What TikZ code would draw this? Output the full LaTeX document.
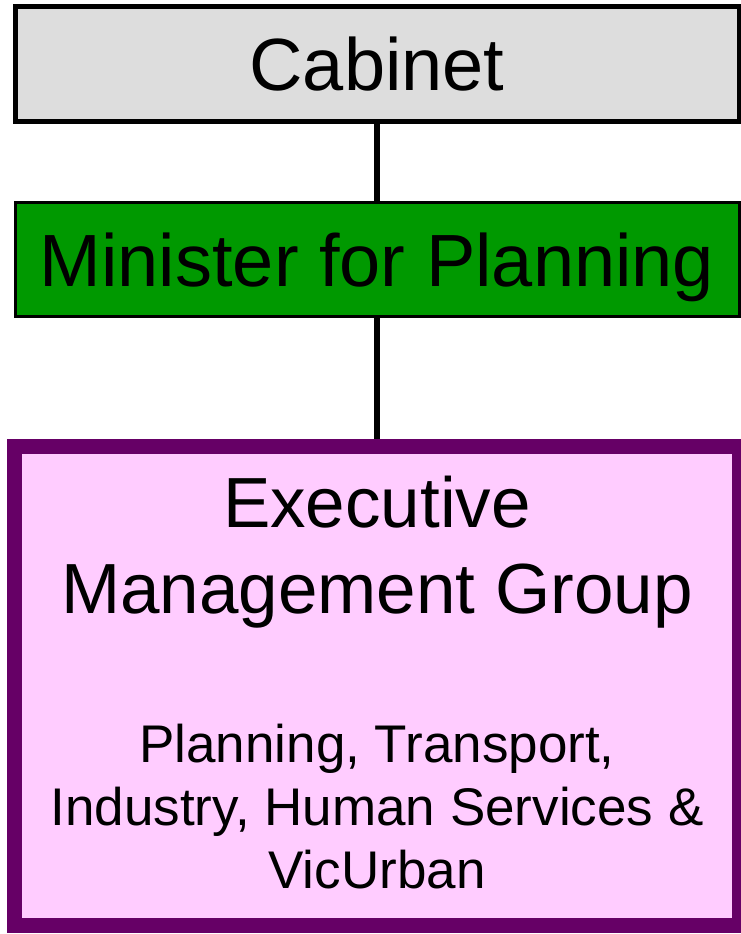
\documentclass[tikz,border=0pt]{standalone}
\usepackage{fontspec}
\setmainfont{Liberation Sans}
\usetikzlibrary{positioning}
\usetikzlibrary{backgrounds}
\definecolor{cabinetgray}{HTML}{DDDDDD}
\definecolor{ministergreen}{HTML}{009900}
\definecolor{emgpurple}{HTML}{660066}
\definecolor{emgpink}{HTML}{FFCCFF}
\tikzset{
   box/.style = {%
    shape=rectangle,
    draw=black,
    align=center,
    text depth=0pt,
    inner sep=0pt,
    minimum width=724pt},
   link/.style = {%
    draw=black,
    line width=5.5pt},
   big/.style = {font=\fontsize{74}{74}\selectfont},
   mid/.style = {font=\fontsize{71}{71}\selectfont, anchor=base},
   small/.style = {font=\fontsize{53}{53}\selectfont, anchor=base},
    }

\begin{document}
\begin{tikzpicture}[x=1pt, y=-1pt]
    \useasboundingbox (0,0) rectangle (741,934);
    \node[box, big, line width=5pt, fill=cabinetgray, minimum height=115pt] (cabinet) at (377,64) {Cabinet};
    \node[box, big, line width=3pt, fill=ministergreen, minimum height=114pt] (minister) at (377,259.5) {Minister for Planning};
    \node[box, line width=15pt, draw=emgpurple, fill=emgpink, minimum width=725pt, minimum height=479.5pt] (emg) at (377,685.75) {};
    % group name and members
    \node[mid] (emgtop) at (377,527) {Executive};
    \node[mid] (emgbottom) at (377,613) {Management Group};
    \node[small] (members1) at (377,762) {Planning, Transport,};
    \node[small] (members2) at (377,825) {Industry, Human Services \&};
    \node[small] (members3) at (377,888) {VicUrban};
    \begin{scope}[on background layer]
        \draw[link] (cabinet.south) -- (minister.north);
        \draw[link] (minister.south) -- (emg.north);
    \end{scope}
\end{tikzpicture}
\end{document}
